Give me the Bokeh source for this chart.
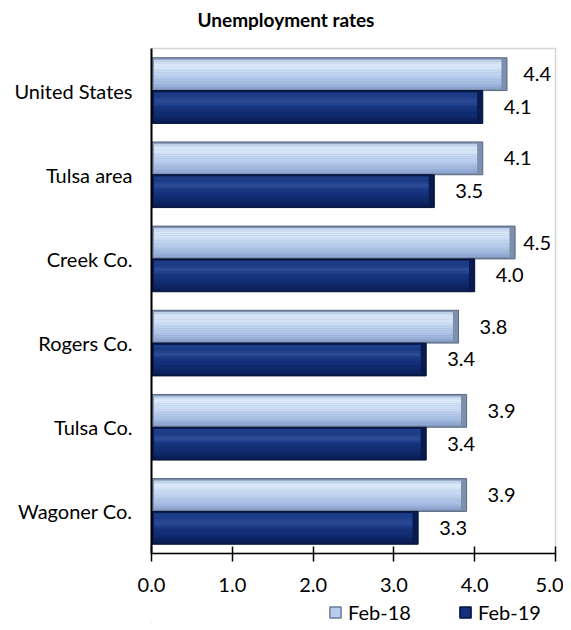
from bokeh.plotting import figure
from bokeh.layouts import column
from bokeh.models import (FactorRange, Range1d, FixedTicker, PrintfTickFormatter,
                          ColumnDataSource, LabelSet, Title, Legend, LegendItem)
from bokeh.transform import dodge
from bokeh.core.properties import value
from bokeh.embed import file_html
from bokeh.resources import INLINE

# ---- data ----
title_text = "Unemployment rates"
categories = ["United States", "Tulsa area", "Creek Co.", "Rogers Co.", "Tulsa Co.", "Wagoner Co."]
feb18 = [4.4, 4.1, 4.5, 3.8, 3.9, 3.9]
feb19 = [4.1, 3.5, 4.0, 3.4, 3.4, 3.3]
series_names = ["Feb-18", "Feb-19"]
x_ticks = [0, 1, 2, 3, 4, 5]

FONT = "Lato"
LAB_MAX = 4.34  # labels near the right edge are pulled in, as in the original

src = ColumnDataSource(dict(
    cat=categories,
    a=feb18, b=feb19,
    a_in=[v - 0.07 for v in feb18], b_in=[v - 0.07 for v in feb19],
    a_lx=[min(v, LAB_MAX) for v in feb18], b_lx=[min(v, LAB_MAX) for v in feb19],
    a_lab=["%.1f" % v for v in feb18], b_lab=["%.1f" % v for v in feb19],
))

p = figure(frame_width=404, frame_height=505, output_backend="svg", toolbar_location=None,
           y_range=FactorRange(factors=categories[::-1]), x_range=Range1d(0, 5),
           min_border_left=151, min_border_right=8, min_border_top=47, min_border_bottom=48)

# spacer (inner) then the real title (outer)
p.add_layout(Title(text=" ", text_font_size="1px", standoff=8.5), "above")
p.add_layout(Title(text=title_text, text_font=FONT, text_font_size="19px",
                   text_font_style="bold", text_color="#000000", align="left",
                   offset=46, standoff=10.5), "above")

BH = 0.39  # bar height in category units


def hex2rgb(h):
    h = h.lstrip("#")
    return [int(h[i:i + 2], 16) for i in (0, 2, 4)]


def gradient(stops, n):
    out = []
    for k in range(n):
        t = (k + 0.5) / n
        for (p0, c0), (p1, c1) in zip(stops[:-1], stops[1:]):
            if p0 <= t <= p1:
                f = (t - p0) / (p1 - p0)
                a, b = hex2rgb(c0), hex2rgb(c1)
                out.append("#%02x%02x%02x" % tuple(round(x + (y - x) * f) for x, y in zip(a, b)))
                break
    return out


def bevel_bar(field, inner_field, center, edge_fill, edge_line, stops, n=16):
    p.hbar(y=dodge("cat", center, range=p.y_range), right=field, left=0, height=BH,
           source=src, fill_color=edge_fill, line_color=edge_line, line_width=1)
    inner_h = BH * 0.88
    cols = gradient(stops, n)
    sh = inner_h / n
    for k, c in enumerate(cols):
        off = center + inner_h / 2 - (k + 0.5) * sh
        p.hbar(y=dodge("cat", off, range=p.y_range), right=inner_field, left=0.03,
               height=sh * 1.15, source=src, fill_color=c, line_color=None)

bevel_bar("a", "a_in", BH / 2, "#7d8fad", "#5a6a84",
          [(0, "#b9cbe6"), (0.15, "#dce9f9"), (0.3, "#d3e2f6"), (0.6, "#b8cded"),
           (0.85, "#a0b8de"), (1, "#8ca4ce")])
bevel_bar("b", "b_in", -BH / 2, "#081a4f", "#051238",
          [(0, "#21408c"), (0.15, "#1c3b86"), (0.32, "#2e4e99"), (0.5, "#183581"),
           (0.8, "#102a6e"), (1, "#0b1f58")])

for fx, fld, ctr in (("a_lx", "a_lab", BH / 2), ("b_lx", "b_lab", -BH / 2)):
    p.add_layout(LabelSet(x=fx, y=dodge("cat", ctr, range=p.y_range), text=fld, source=src,
                          x_offset=21, text_baseline="middle", text_align="left",
                          text_font=value(FONT), text_font_size="20px", text_color="#000000"))

p.xgrid.visible = False
p.ygrid.visible = False
p.outline_line_color = "#d4d4d4"
p.outline_line_width = 1.5

p.xaxis.ticker = FixedTicker(ticks=x_ticks)
p.xaxis.formatter = PrintfTickFormatter(format="%.1f")
p.xaxis.minor_tick_line_color = None
p.xaxis.major_tick_in = 7
p.xaxis.major_tick_out = 8
p.xaxis.major_tick_line_width = 1.5
p.xaxis.major_tick_line_color = "#000000"
p.xaxis.axis_line_width = 1.5
p.xaxis.major_label_standoff = 16
p.yaxis.major_tick_line_color = None
p.yaxis.minor_tick_line_color = None
p.yaxis.axis_line_width = 2
p.yaxis.major_label_standoff = 13
for ax in (p.xaxis, p.yaxis):
    ax.axis_line_color = "#000000"
    ax.major_label_text_font = FONT
    ax.major_label_text_font_size = "20px"
    ax.major_label_text_color = "#000000"

# ---- legend strip below the chart (its frame lines up with the chart's frame) ----
lf = figure(width=563, height=22, output_backend="svg", toolbar_location=None,
            x_range=Range1d(0, 1), y_range=Range1d(0, 1),
            x_axis_location=None, y_axis_location=None,
            min_border_left=0, min_border_right=0, min_border_top=0, min_border_bottom=0)
lf.outline_line_color = None
lf.xgrid.visible = False
lf.ygrid.visible = False
# swatch renderers: one point each, kept outside the visible range (legend swatches only)
sw = ColumnDataSource(dict(y=[-5], left=[-5], right=[-4]))
r18 = lf.hbar(y="y", left="left", right="right", height=0.5, source=sw,
              fill_color="#b8cded", line_color="#6b7d9b", line_width=1.5)
r19 = lf.hbar(y="y", left="left", right="right", height=0.5, source=sw,
              fill_color="#14307a", line_color="#061443", line_width=1.5)
legend = Legend(items=[LegendItem(label=series_names[0], renderers=[r18]),
                       LegendItem(label=series_names[1], renderers=[r19])],
                orientation="horizontal", location="left", margin=177,
                glyph_width=14, glyph_height=14, label_standoff=6, label_width=76, spacing=34,
                padding=0, border_line_color=None, background_fill_alpha=0,
                label_text_font=FONT, label_text_font_size="20px", label_text_color="#000000")
lf.add_layout(legend)

layout = column(p, lf, spacing=0)
open("out.html", "w").write(file_html(layout, INLINE))
